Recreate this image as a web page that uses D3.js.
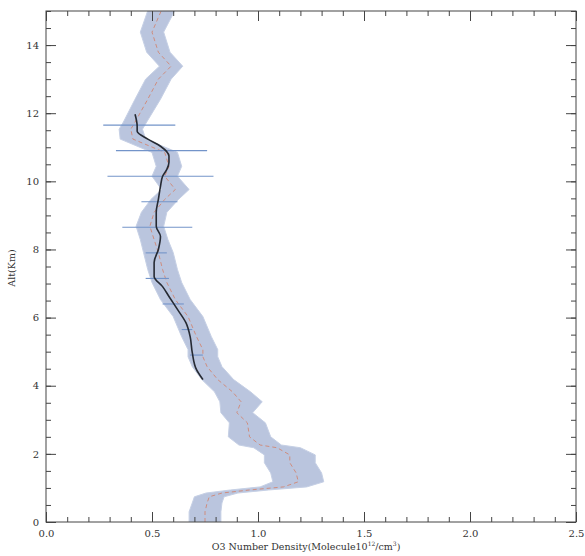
<!DOCTYPE html>
<html lang="en">
<head>
<meta charset="UTF-8">
<title>O3 profile</title>
<style>
  body { margin: 0; background: #fff; }
  text { font-family: "DejaVu Serif", serif; fill: #333; }
</style>
</head>
<body>
<script src="https://cdn.jsdelivr.net/npm/d3@7"></script>
<script>
// profile (dashed centre line + shaded band)
var alt  = [0.0, 0.3, 0.56, 0.74, 0.85, 0.94, 1.03, 1.18, 1.44, 1.74,
            1.97, 2.18, 2.26, 2.5, 2.91, 3.21, 3.53, 3.82, 4.18, 4.56,
            4.85, 5.06, 5.44, 6.03, 6.53, 7.03, 7.41, 7.91, 8.29, 8.68,
            9.09, 9.47, 9.76, 10.15, 10.44, 10.85, 11.24, 11.53, 11.74, 12.41,
            13.0, 13.38, 13.79, 14.38, 15.1];
var dens = [0.75, 0.75, 0.76, 0.77, 0.83, 0.96, 1.12, 1.19, 1.18, 1.15,
            1.15, 1.09, 1.01, 0.96, 0.95, 0.90, 0.92, 0.88, 0.81, 0.76,
            0.74, 0.74, 0.71, 0.67, 0.61, 0.57, 0.55, 0.53, 0.51, 0.49,
            0.51, 0.56, 0.61, 0.56, 0.58, 0.56, 0.41, 0.40, 0.42, 0.48,
            0.53, 0.59, 0.53, 0.50, 0.55];
var err  = [0.075, 0.075, 0.07, 0.07, 0.075, 0.09, 0.11, 0.12, 0.12, 0.12,
            0.12, 0.11, 0.10, 0.10, 0.085, 0.075, 0.10, 0.085, 0.075, 0.07,
            0.07, 0.07, 0.07, 0.07, 0.07, 0.07, 0.07, 0.07, 0.065, 0.065,
            0.06, 0.065, 0.065, 0.06, 0.06, 0.06, 0.06, 0.055, 0.055, 0.06,
            0.06, 0.055, 0.055, 0.055, 0.065];

// second profile (solid black)
var alt2  = [4.18, 4.47, 4.97, 5.44, 5.85, 6.24, 6.62, 6.91, 7.21, 7.62,
             8.0, 8.38, 8.68, 9.09, 9.47, 9.85, 10.15, 10.35, 10.56, 10.74,
             11.03, 11.24, 11.47, 11.62, 11.97];
var dens2 = [0.74, 0.71, 0.69, 0.68, 0.66, 0.62, 0.58, 0.55, 0.51, 0.51,
             0.53, 0.54, 0.52, 0.52, 0.53, 0.54, 0.55, 0.57, 0.58, 0.58,
             0.54, 0.48, 0.43, 0.43, 0.42];

// horizontal error bars
var barAlt = [11.65, 10.9, 10.15, 9.4, 8.65, 7.9, 7.15, 6.4, 5.65, 4.9];
var barLo  = [0.27, 0.33, 0.29, 0.45, 0.36, 0.47, 0.47, 0.55, 0.64, 0.68];
var barHi  = [0.61, 0.76, 0.79, 0.62, 0.69, 0.57, 0.58, 0.65, 0.69, 0.74];

var xTicks = [0, 0.5, 1.0, 1.5, 2.0, 2.5];
var yTicks = [0, 2, 4, 6, 8, 10, 12, 14];

var W = 585, H = 556;
var x = d3.scaleLinear().domain([0, 2.5]).range([46, 576]);
var y = d3.scaleLinear().domain([0, 15]).range([522, 11]);

var svg = d3.select("body").append("svg")
    .attr("width", W).attr("height", H);

svg.append("defs").append("clipPath").attr("id", "clip")
  .append("rect")
    .attr("x", x(0)).attr("y", y(15))
    .attr("width", x(2.5) - x(0)).attr("height", y(0) - y(15));

var prof = alt.map(function(a, i) { return {a: a, v: dens[i], e: err[i]}; });
var prof2 = alt2.map(function(a, i) { return {a: a, v: dens2[i]}; });

var plot = svg.append("g").attr("clip-path", "url(#clip)");

var band = d3.area()
    .y(function(d) { return y(d.a); })
    .x0(function(d) { return x(d.v - d.e); })
    .x1(function(d) { return x(d.v + d.e); })
    .curve(d3.curveLinear);

plot.append("path").datum(prof)
    .attr("d", band)
    .attr("fill", "#bac5de")
    .attr("stroke", "#c6d0e5")
    .attr("stroke-width", 1);

plot.append("path").datum(prof)
    .attr("d", d3.line().x(function(d) { return x(d.v); }).y(function(d) { return y(d.a); }))
    .attr("fill", "none")
    .attr("stroke", "#cf8d7e")
    .attr("stroke-width", 1)
    .attr("stroke-dasharray", "4,3");

// error bars
plot.selectAll(".ebar").data(barAlt).enter().append("line")
    .attr("class", "ebar")
    .attr("x1", function(d, i) { return x(barLo[i]); })
    .attr("x2", function(d, i) { return x(barHi[i]); })
    .attr("y1", function(d) { return y(d); })
    .attr("y2", function(d) { return y(d); })
    .attr("stroke", "#7394c9")
    .attr("stroke-width", 1.1);

plot.append("path").datum(prof2)
    .attr("d", d3.line().x(function(d) { return x(d.v); }).y(function(d) { return y(d.a); }).curve(d3.curveMonotoneY))
    .attr("fill", "none")
    .attr("stroke", "#262a33")
    .attr("stroke-width", 1.6);

// frame
svg.append("rect")
    .attr("x", x(0)).attr("y", y(15))
    .attr("width", x(2.5) - x(0)).attr("height", y(0) - y(15))
    .attr("fill", "none").attr("stroke", "#444").attr("stroke-width", 1);

var xMinor = d3.range(0, 2.51, 0.1).map(function(v) { return +v.toFixed(1); });
var yMinor = d3.range(0, 15.01, 0.5);

function styleAxis(g) {
  g.select(".domain").remove();
  g.selectAll("line").attr("stroke", "#444");
  g.selectAll("text").attr("font-size", 10).attr("fill", "#333")
    .attr("font-family", "DejaVu Serif, serif");
}

// bottom
svg.append("g").attr("transform", "translate(0," + y(0) + ")")
    .call(d3.axisBottom(x).tickValues(xMinor).tickSize(-5).tickFormat(""))
    .call(styleAxis);
svg.append("g").attr("transform", "translate(0," + y(0) + ")")
    .call(d3.axisBottom(x).tickValues(xTicks).tickSize(-10).tickPadding(8)
      .tickFormat(d3.format(".1f")))
    .call(styleAxis);
// top
svg.append("g").attr("transform", "translate(0," + y(15) + ")")
    .call(d3.axisTop(x).tickValues(xMinor).tickSize(-5).tickFormat(""))
    .call(styleAxis);
svg.append("g").attr("transform", "translate(0," + y(15) + ")")
    .call(d3.axisTop(x).tickValues(xTicks).tickSize(-10).tickFormat(""))
    .call(styleAxis);
// left
svg.append("g").attr("transform", "translate(" + x(0) + ",0)")
    .call(d3.axisLeft(y).tickValues(yMinor).tickSize(-5).tickFormat(""))
    .call(styleAxis);
svg.append("g").attr("transform", "translate(" + x(0) + ",0)")
    .call(d3.axisLeft(y).tickValues(yTicks).tickSize(-10).tickPadding(7)
      .tickFormat(d3.format("d")))
    .call(styleAxis);
// right
svg.append("g").attr("transform", "translate(" + x(2.5) + ",0)")
    .call(d3.axisRight(y).tickValues(yMinor).tickSize(-5).tickFormat(""))
    .call(styleAxis);
svg.append("g").attr("transform", "translate(" + x(2.5) + ",0)")
    .call(d3.axisRight(y).tickValues(yTicks).tickSize(-10).tickFormat(""))
    .call(styleAxis);

// axis titles
var xt = svg.append("text")
    .attr("x", 306).attr("y", 550)
    .attr("text-anchor", "middle")
    .attr("font-size", 9.5);
xt.append("tspan").text("O3 Number Density(Molecule10");
xt.append("tspan").attr("font-size", 6).attr("dy", -4).text("12");
xt.append("tspan").attr("dy", 4).text("/cm");
xt.append("tspan").attr("font-size", 6).attr("dy", -4).text("3");
xt.append("tspan").attr("dy", 4).text(")");

svg.append("text")
    .attr("transform", "translate(15,268) rotate(-90)")
    .attr("text-anchor", "middle")
    .attr("font-size", 9.5)
    .text("Alt(Km)");
</script>
</body>
</html>
